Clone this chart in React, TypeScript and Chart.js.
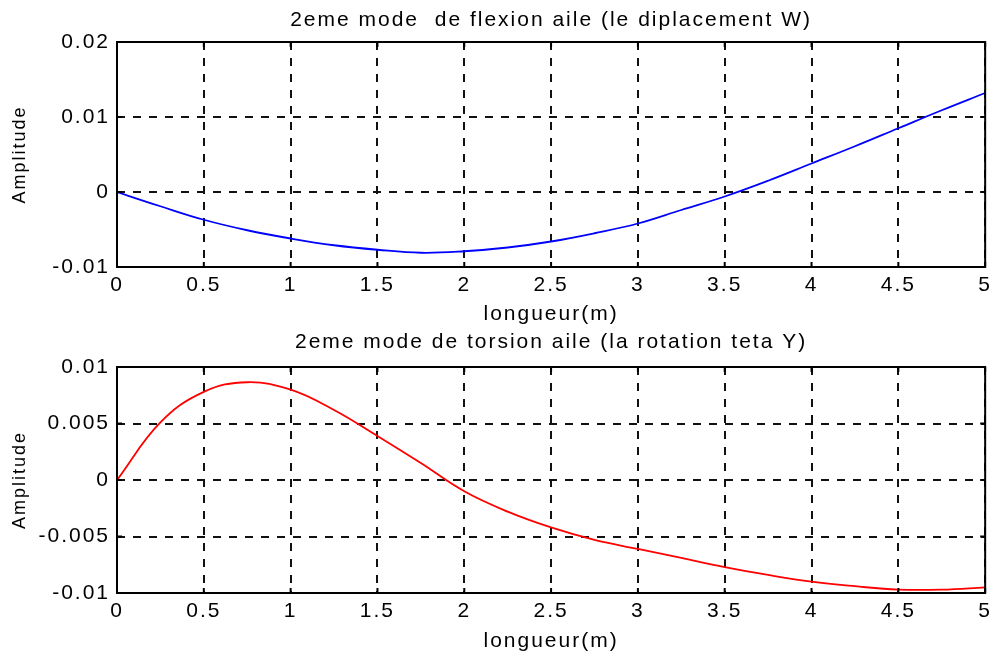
import React, { useEffect, useRef } from 'react';
import { Chart, registerables } from 'chart.js';

Chart.register(...registerables);

// ---- data ----
const xPositions = [0, 0.25, 0.5, 0.75, 1, 1.25, 1.5, 1.75, 2, 2.25, 2.5, 2.75, 3, 3.25, 3.5, 3.75, 4, 4.25, 4.5, 4.75, 5];
const flexionW = [0, -0.0019, -0.0037, -0.0051, -0.0062, -0.0071, -0.0077, -0.0081, -0.0079, -0.0074, -0.0066, -0.0055, -0.0042, -0.0024, -0.0006, 0.0015, 0.0038, 0.0061, 0.0085, 0.0109, 0.0132];
const torsionTheta = [0, 0.0051, 0.0078, 0.00865, 0.0080, 0.0062, 0.0039, 0.0015, -0.001, -0.0028, -0.0042, -0.0053, -0.0061, -0.0069, -0.0077, -0.0084, -0.0090, -0.0094, -0.0097, -0.0097, -0.0095];

const xTicks = [0, 0.5, 1, 1.5, 2, 2.5, 3, 3.5, 4, 4.5, 5];
const flexionYTicks = [-0.01, 0, 0.01, 0.02];
const torsionYTicks = [-0.01, -0.005, 0, 0.005, 0.01];

const titleFlexion = '2eme mode  de flexion aile (le diplacement W)';
const titleTorsion = '2eme mode de torsion aile (la rotation teta Y)';
const xLabel = 'longueur(m)';
const yLabel = 'Amplitude';

const FONT = "'Liberation Sans', Arial, Helvetica, sans-serif";

const matlabBox = {
  id: 'matlabBox',
  beforeDraw(chart: any) {
    (chart.ctx as any).letterSpacing = '2px';
  },
  afterDraw(chart: any) {
    const { ctx, chartArea: a, scales } = chart;
    ctx.save();
    (ctx as any).letterSpacing = '0px';
    ctx.setLineDash([]);
    ctx.strokeStyle = '#000';
    ctx.lineWidth = 2;
    const L = 5;
    ctx.beginPath();
    scales.x.ticks.forEach((t: any) => {
      const px = scales.x.getPixelForValue(t.value);
      ctx.moveTo(px, a.bottom);
      ctx.lineTo(px, a.bottom - L);
      ctx.moveTo(px, a.top);
      ctx.lineTo(px, a.top + L);
    });
    scales.y.ticks.forEach((t: any) => {
      const py = scales.y.getPixelForValue(t.value);
      ctx.moveTo(a.left, py);
      ctx.lineTo(a.left + L, py);
      ctx.moveTo(a.right, py);
      ctx.lineTo(a.right - L, py);
    });
    ctx.stroke();
    ctx.strokeRect(a.left, a.top, a.right - a.left, a.bottom - a.top);
    ctx.restore();
  },
};

function makeConfig(
  title: string,
  values: number[],
  color: string,
  yTicks: number[],
  titlePad: { top: number; bottom: number },
  xAxisHeight: number
): any {
  const tickFont = { family: FONT, size: 21, lineHeight: 1.2 };
  return {
    type: 'line',
    data: {
      datasets: [
        {
          data: xPositions.map((x, i) => ({ x, y: values[i] })),
          borderColor: color,
          backgroundColor: color,
          borderWidth: 1.8,
          pointRadius: 0,
          tension: 0.4,
          fill: false,
        },
      ],
    },
    options: {
      responsive: false,
      animation: false,
      events: [],
      layout: { padding: { left: 0, right: 11, top: 0, bottom: 0 } },
      plugins: {
        legend: { display: false },
        tooltip: { enabled: false },
        title: {
          display: true,
          text: title,
          color: '#000',
          fullSize: false,
          font: { family: FONT, size: 21, weight: 'normal', lineHeight: 1.2 },
          padding: titlePad,
        },
      },
      scales: {
        x: {
          type: 'linear',
          min: 0,
          max: 5,
          afterBuildTicks: (s: any) => {
            s.ticks = xTicks.map((v) => ({ value: v }));
          },
          afterFit: (s: any) => {
            s.height = xAxisHeight;
          },
          ticks: {
            color: '#000',
            padding: 6,
            maxRotation: 0,
            autoSkip: false,
            font: tickFont,
            callback: (v: any) => String(v),
          },
          grid: { color: '#111', lineWidth: 2, drawTicks: false },
          border: { display: false, dash: [8, 8] },
          title: {
            display: true,
            text: xLabel,
            color: '#000',
            font: { family: FONT, size: 21, lineHeight: 1.2 },
            padding: { top: 0, bottom: 3 },
          },
        },
        y: {
          type: 'linear',
          min: yTicks[0],
          max: yTicks[yTicks.length - 1],
          afterBuildTicks: (s: any) => {
            s.ticks = yTicks.map((v) => ({ value: v }));
          },
          afterFit: (s: any) => {
            s.width = 117;
          },
          ticks: {
            color: '#000',
            padding: 7,
            autoSkip: false,
            font: tickFont,
            callback: (v: any) => String(v),
          },
          grid: { color: '#111', lineWidth: 2, drawTicks: false },
          border: { display: false, dash: [8, 8] },
          title: {
            display: true,
            text: yLabel,
            color: '#000',
            font: { family: FONT, size: 18, lineHeight: 1.2 },
            padding: { top: 9, bottom: 0 },
          },
        },
      },
    },
    plugins: [matlabBox],
  };
}

function Panel(props: { top: number; height: number; config: () => any }) {
  const ref = useRef<HTMLCanvasElement | null>(null);
  useEffect(() => {
    if (!ref.current) return;
    const chart = new Chart(ref.current, props.config());
    return () => chart.destroy();
  }, []);
  return (
    <div style={{ position: 'absolute', left: 0, top: props.top, width: 997, height: props.height }}>
      <canvas ref={ref} width={997} height={props.height} style={{ display: 'block' }} />
    </div>
  );
}

export default function App() {
  return (
    <div style={{ position: 'absolute', left: 0, top: 0, width: 997, height: 657, background: '#fff' }}>
      <Panel
        top={0}
        height={330}
        config={() => makeConfig(titleFlexion, flexionW, '#0000ff', flexionYTicks, { top: 7.4, bottom: 9.4 }, 63)}
      />
      <Panel
        top={330}
        height={327}
        config={() => makeConfig(titleTorsion, torsionTheta, '#ff0000', torsionYTicks, { top: 0, bottom: 11.8 }, 64)}
      />
    </div>
  );
}
